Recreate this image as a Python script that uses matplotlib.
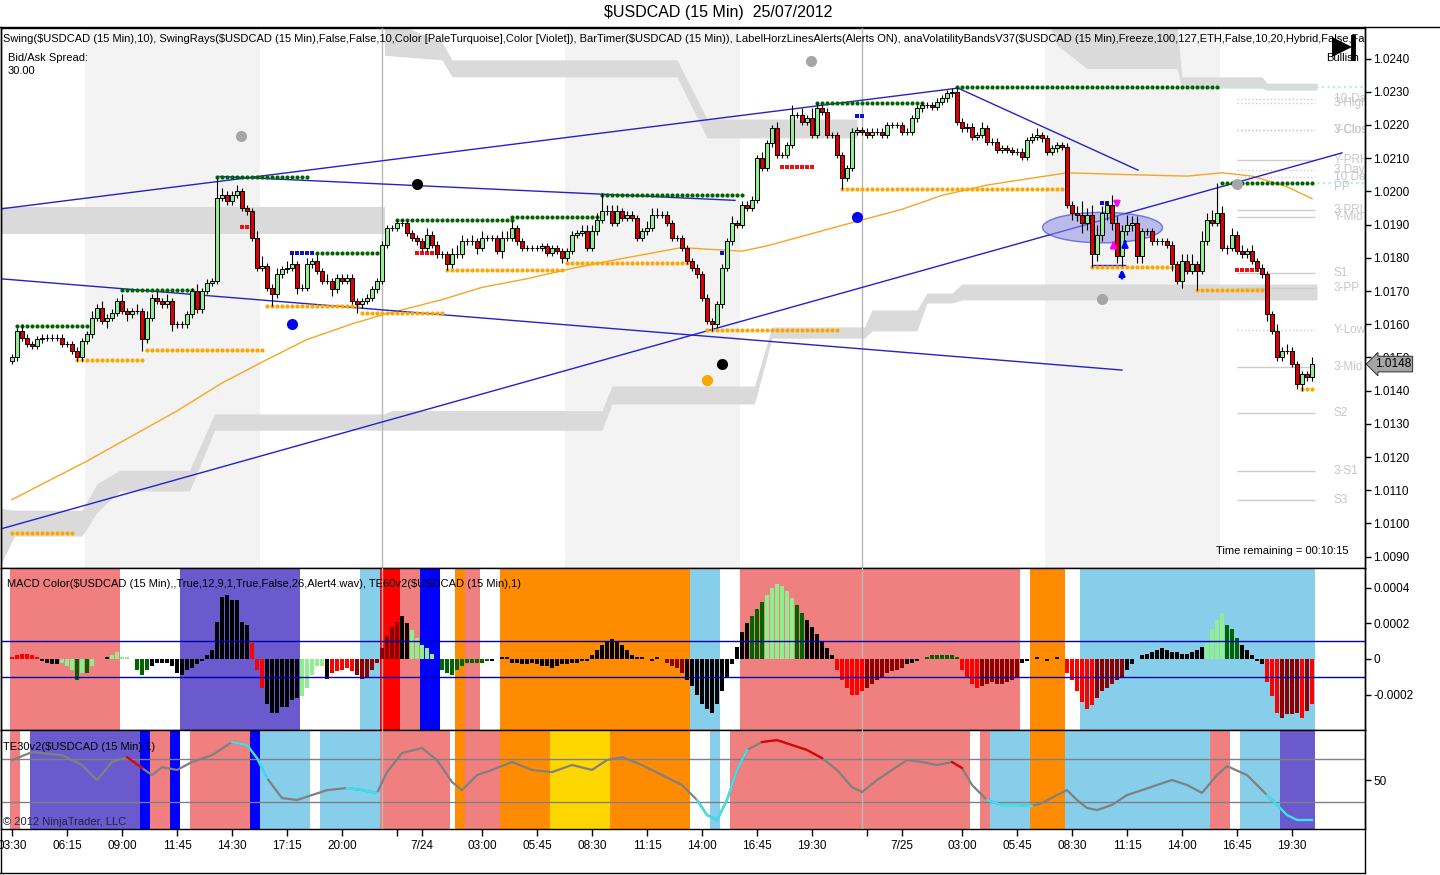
"""
$USDCAD 15 minute chart (NinjaTrader, 23-25 July 2012) redrawn with matplotlib
"""

import numpy as np
import matplotlib.pyplot as plt
import matplotlib.transforms as mtransforms
from matplotlib.lines import Line2D
from matplotlib.patches import Ellipse

plt.rcParams['font.family'] = ['Liberation Sans', 'DejaVu Sans']

# Prices are kept in pips above parity: price = 1 + pips / 10000
# one entry per 15 minute bar, bar 0 is 23/07 03:30
firstOpen = 149
closes = [
    150, 158, 156, 154, 153.5, 155.5, 156, 156, 156, 156,
    154, 154, 152, 150, 155, 157, 162, 165, 161, 162,
    163.5, 167, 164, 163, 164, 164, 155.5, 162, 168, 167,
    166, 167, 160, 160, 160, 163, 170, 164.5, 170, 172.5,
    173, 198, 199, 197, 199, 200, 195, 194, 186, 177,
    177.5, 171, 169, 175, 176.5, 177, 178, 171, 171, 178,
    179, 176, 173, 173, 170.5, 174, 173, 174, 167, 166,
    167, 168, 170.5, 173, 184, 189, 189, 190.5, 190.5, 187.5,
    186, 185, 183, 187, 184, 181, 181, 178, 181, 181,
    185, 185, 185, 183, 186, 186, 186, 182, 186, 186,
    189, 185, 183, 183, 183, 183, 183.5, 181.5, 183, 182,
    180, 182, 187, 187.5, 188, 183, 188, 191.5, 194, 194,
    190.5, 194, 192, 193, 192, 186, 188, 189, 193, 193,
    193, 190.5, 186, 186, 183, 179, 177, 175, 168, 161,
    160, 166, 177, 185, 190.5, 190, 196, 195, 197.5, 210,
    207, 214.5, 219, 211, 211, 214, 223, 223, 221, 222,
    217, 225, 224, 217, 217, 211, 204, 207, 218, 218.5,
    218, 217, 218, 218, 217, 220, 220, 220, 218, 218,
    222, 225, 226, 226, 225.5, 227, 228, 229.5, 230, 221,
    219, 219.5, 216.5, 217, 219, 215, 215, 212.5, 213, 212.5,
    212, 212, 210.5, 215.5, 216.5, 217, 216, 212, 213, 214,
    213.5, 196, 193.5, 193, 190.5, 193, 181, 187, 193.5, 196,
    190.5, 180.5, 188, 190, 190.5, 180.5, 188, 188, 185, 185,
    185, 184, 178, 173, 179, 176, 178, 176, 185, 191.5,
    190.5, 193.5, 183, 183, 187, 182, 181, 182, 179, 177,
    175, 163, 158, 150, 152, 152, 148, 142, 145, 144,
    148,
]
upWicks = [
    1, 1, 2, 1, 1, 1, 1, 1, 1, 1,
    1, 1, 1, 1, 1, 1, 2, 1, 2, 1,
    1, 1, 2, 1, 1, 2, 1, 2, 1, 2,
    1, 2, 1, 1, 1, 1, 1, 2, 1, 1,
    1, 6, 2, 1, 1, 2, 1, 1, 1, 2,
    3, 1, 1, 2, 1, 2, 3, 1, 1, 2,
    1, 2, 1, 2, 1, 1, 1, 1, 1, 1,
    1, 1, 1, 1, 1, 1, 1, 1, 1, 1,
    1, 1, 1, 2, 1, 1, 1, 1, 2, 3,
    2, 1, 2, 1, 2, 1, 1, 1, 2, 2,
    2, 1, 1, 1, 1, 1, 1, 1, 1, 1,
    1, 1, 1, 1, 2, 2, 2, 2, 5.5, 2,
    2, 2, 1, 1, 1, 1, 1, 2, 2, 2,
    1, 1, 1, 1, 1, 1, 1, 1, 1, 1,
    1, 1, 1, 1, 2, 1, 1, 1, 1, 1,
    2, 1, 1, 2, 1, 1, 3, 1, 2, 1,
    3, 1.7, 1, 1, 1, 1, 1, 1, 1, 1,
    1, 1, 1, 1, 1, 1, 1, 1, 1, 1,
    1, 1, 1, 1, 1, 1, 1, 1, 1, 1.5,
    1, 1, 1, 1, 2, 1, 1, 1, 1, 1,
    1, 1, 1, 1, 1, 2, 1, 1, 1, 1,
    1, 1, 1, 2, 4, 2, 3, 3, 2, 1,
    3, 2, 2, 3, 2, 2, 1, 1, 1, 1,
    1, 1, 1, 1, 2, 2, 3, 1, 3, 2,
    3, 9, 2, 1, 2, 1, 2, 1, 2, 1,
    1, 1, 1, 2, 1, 2, 1, 1, 1, 1,
    2,
]
downWicks = [
    1, 1, 1, 1, 1, 1, 1, 1, 1, 1,
    1, 1, 1, 1, 1, 1, 1, 1, 1, 2,
    1, 1, 1, 2, 1, 1, 3.5, 1, 1, 1,
    1, 1, 2, 1, 1, 1, 1, 1, 1, 1,
    1, 1, 1, 1, 1, 1, 1, 1, 1, 1,
    1, 1, 3.5, 1, 1, 1, 1, 2, 1, 1,
    1, 1, 1, 1, 2, 1, 1, 1, 1, 2.6,
    1, 1, 1, 1, 1, 1, 1, 1, 1, 1,
    1, 1, 1, 1, 1, 1, 1, 1.7, 1, 1,
    1, 1, 1, 2, 1, 1, 1, 1, 2, 1,
    1, 1, 1, 1, 1, 1, 1, 1, 1, 1,
    1.5, 1, 1, 1, 1, 1, 1, 1, 1, 1,
    1, 1, 1, 1, 1, 1, 1, 1, 1, 1,
    1, 1, 1, 1, 1, 1, 1, 1, 1, 1,
    2, 1, 1, 1, 1, 1, 1, 1, 1, 1,
    1, 1, 1, 1, 1, 1, 1, 1, 1, 1,
    1, 1, 1, 1, 1, 1, 3.4, 1, 1, 1,
    1, 1, 1, 1, 1, 1, 1, 1, 1, 1,
    1, 1, 1, 1, 1, 1, 1, 1, 1, 1,
    1, 1, 1, 1, 1, 1, 1, 1, 1, 1,
    1, 1, 1, 1, 1, 1, 1, 1, 1, 1,
    1, 1, 2, 2, 3, 2, 3.7, 2, 2, 2,
    2, 2, 3, 1, 2, 2, 2, 1, 1, 1,
    1, 1, 2, 1, 2, 1, 1, 5.7, 1, 1,
    1, 1, 1, 2, 1, 1, 1, 1, 1, 1,
    1, 2, 1, 1, 1, 1, 1, 1.6, 2, 1,
    1,
]

# x axis (bar index -> label)
tickBars = [0, 11, 22, 33, 44, 55, 66, 77, 82, 94, 105, 116, 127, 138, 149, 160,
            171, 178, 190, 201, 212, 223, 234, 245, 256]
tickLabels = ['03:30', '06:15', '09:00', '11:45', '14:30', '17:15', '20:00', '', '7/24',
              '03:00', '05:45', '08:30', '11:15', '14:00', '16:45', '19:30', '', '7/25',
              '03:00', '05:45', '08:30', '11:15', '14:00', '16:45', '19:30']
sessionBreaks = [74, 170]
sessionShading = [(15, 50), (111, 146), (207, 242)]

# moving average (bar, pips)
maBars = [0, 15, 33, 42, 50, 59, 68, 74, 86, 94, 103, 112, 121, 134, 139, 146, 151, 160,
          169, 178, 186, 195, 204, 211, 222, 235, 242, 248, 255, 260]
maValues = [107.2, 118.8, 133.9, 142.3, 148.6, 155.4, 160.1, 162.8, 167.4, 171.1, 173.7,
            176.8, 179.5, 183.1, 182.6, 182.0, 183.6, 187.3, 191.0, 194.6, 198.8, 201.9,
            204.0, 205.6, 205.1, 204.6, 205.6, 204.6, 201.4, 197.8]

# volatility bands: segments of (bars, lower edge, upper edge)
volBands = [
    ([-2.5, 74.5], [187.3, 187.3], [195.2, 195.2]),
    ([74.5, 86, 88, 133, 139, 169], [241, 239.6, 234.5, 234.5, 216.1, 216.1],
     [252, 245, 239.6, 239.6, 221.8, 221.8]),
    ([207, 209, 215, 233, 234, 250, 251, 261], [252, 244, 237, 237, 231.1, 231.1, 230.5, 230.5],
     [260, 252, 250, 250, 234.5, 234.5, 232.6, 232.6]),
    ([-2.5, 0.5, 14, 17, 21.5, 35.5, 40.5, 74.5, 76, 118, 120, 148.5, 152, 170.5, 172, 181,
      183, 188, 190, 261],
     [87, 96.2, 96.2, 103.4, 109.8, 109.8, 128.1, 128.1, 128.1, 128.1, 136, 136, 155.8, 155.8,
      158, 158, 166.4, 166.4, 167.3, 167.3],
     [104.6, 104, 104, 112, 116, 116, 133, 133, 134, 134, 141.4, 141.4, 159.2, 159.2, 164.3,
      164.3, 169.4, 169.4, 172.1, 172.1]),
]

# swing lines: (first bar, last bar, level)
swingHighs = [(1, 15, 159.5), (22, 36, 170.3), (41, 59, 204.3), (61, 73, 181.4), (77, 100, 191.5),
              (100, 117, 192.4), (118, 146, 199.0), (161, 182, 226.7), (189, 241, 231.5),
              (242, 260, 202.5)]
swingLows = [(0, 12, 97.1), (13, 26, 149.3), (27, 50, 152.2), (51, 69, 165.6), (70, 86, 163.4),
             (87, 110, 176.3), (111, 135, 178.5), (139, 165, 158.3), (166, 210, 200.6),
             (216, 232, 177.3), (237, 250, 170.3), (258, 260, 140.4)]
swingRays = [(241, 271, 231.5), (260, 271, 202.5)]
redMarks = [(46, 48, 189.4), (81, 85, 181.4), (154, 160, 207.4), (245, 250, 176.3)]
blueMarks = [(56, 60, 181.4), (142, 143, 181.5), (169, 170, 222.6), (218, 219, 196.5)]

# trend lines ((bar, pips), (bar, pips))
trendLines = [((-2.4, 194.7), (189.2, 231.1)), ((189.2, 231.1), (225.2, 206.4)),
              ((41.6, 204.5), (144.6, 197.3)), ((-2.4, 173.7), (222, 146.2)),
              ((-2.4, 98.3), (266, 211.6)), ((216, 177.9), (222.5, 177.9))]

# big dots
grayDots = [(45.8, 216.7), (159.8, 239.3), (218, 167.6), (245, 202.3)]
blackDots = [(81, 202.3), (142, 148.0)]
blueDots = [(56, 160.1), (169, 192.3)]
orangeDots = [(139, 143.1)]

# signal arrows (bar, from pips, to pips, colour)
arrows = [(221, 197.8, 194.0, 'magenta'), (220.3, 183.5, 186.0, 'magenta'),
          (222.6, 184.0, 186.2, 'blue'), (222, 173.0, 177.4, 'blue')]

# pivot levels drawn at the right end
pivotLevels = [227.7, 226.5, 218.5, 218.5, 209.5, 206.4, 204.4, 201.4, 194.4, 192.4, 175.3,
               170.8, 158.3, 147.2, 133.2, 115.9, 107.0]
pivotNames = ['10-Day High', '3-High', '3-Close', 'Y-Close', 'Y-PRH', '3 Day Mid', '10 Day Mid',
              'PP', '3-PRL', 'Y-Mid', 'S1', '3-PP', 'Y-Low', '3-Mid', 'S2', '3-S1', 'S3']
pivotStyles = [':', ':', ':', ':', '-', ':', ':', 'none', '-', '-', '-', '-', ':', '-', '-', '-', '-']

# MACD histogram in units of 1e-5, runs of (colour code, values) from bar 0
macdRuns = [
    ('r', [1, 2, 3, 3, 2, 1]),
    ('k', [-1, -2, -3, -3]),
    ('g', [-2, -4, -6]),
    ('G', [-12]),
    ('g', [-8]),
    ('G', [-8]),
    ('g', [-4]),
    ('k', [0, 0, 1]),
    ('g', [2, 4, 1, 1, 0]),
    ('G', [-6, -9, -6]),
    ('k', [-4, -2, -2, -2, -4, -8, -9, -6, -5, -3, -1, 2, 5, 21, 35, 36, 33, 33, 21, 19]),
    ('r', [9, -6, -16]),
    ('k', [-25, -30, -30, -27, -27, -23, -22]),
    ('g', [-21, -16, -9, -4, -4]),
    ('k', [-11]),
    ('r', [-8, -7, -6, -5, -7]),
    ('d', [-9, -11, -10, -6, -2, 6, 13, 18, 21]),
    ('k', [24, 20]),
    ('g', [16, 12, 8, 6, 3]),
    ('k', [0]),
    ('G', [-6, -8, -9, -6, -4, -2, -2, -2, -2, -1]),
    ('k', [-1, 0, 1, 1]),
    ('k', [-2, -2, -3, -3, -2, -3, -4, -4, -5, -4, -3, -3, -2, -2, -1, -1]),
    ('k', [2, 5, 8, 10, 11, 10, 8, 5, 2, 1]),
    ('k', [1, 0, -1, 1, 0]),
    ('d', [-2, -4, -5, -8]),
    ('k', [-12, -15, -20, -25, -28, -30, -25, -18, -10, -3]),
    ('k', [7, 15, 20]),
    ('G', [24, 28, 32]),
    ('g', [36, 40, 42, 41, 38, 34]),
    ('G', [30, 26]),
    ('k', [22, 18, 14, 10, 6, 2]),
    ('r', [-6, -12, -16, -20, -20, -18]),
    ('d', [-16, -14, -12, -10, -8, -7, -6, -5]),
    ('k', [-3, -2, -1, 0]),
    ('G', [1, 2, 2, 2, 2, 2, 1]),
    ('r', [-6, -10, -14, -16]),
    ('d', [-15, -14, -13, -14, -14, -13, -12, -10]),
    ('k', [-2, -1, 0, 1, 0, -1, 0, 1, 0]),
    ('r', [-8, -12, -18, -24, -28, -26]),
    ('d', [-22, -18, -16, -14, -12, -10]),
    ('k', [-6, -3, 0, 2, 3, 4, 5, 6, 5, 4, 4, 3, 3, 4, 5, 7]),
    ('g', [9, 17, 22, 26]),
    ('G', [19, 17, 12]),
    ('k', [8, 5, 2, -1, -3]),
    ('r', [-13, -21, -30]),
    ('d', [-33, -31, -31, -30]),
    ('r', [-33]),
    ('d', [-29]),
    ('r', [-25]),
]
macdColours = {'r': '#ff0000', 'd': '#8b0000', 'g': '#90ee90', 'G': '#006400', 'k': '#000000'}

# background states (first bar, end bar, colour)
macdBands = [(0, 22, '#f08080'), (34, 58, '#6a5acd'), (70, 74, '#87ceeb'), (74, 78, '#ff0000'),
             (78, 82, '#f08080'), (82, 86, '#0000ff'), (89, 91, '#ff8c00'), (91, 94, '#f08080'),
             (98, 136, '#ff8c00'), (136, 142, '#87ceeb'), (146, 202, '#f08080'),
             (204, 211, '#ff8c00'), (214, 261, '#87ceeb')]
teBands = [(0, 2, '#f08080'), (4, 26, '#6a5acd'), (26, 28, '#0000ff'), (28, 32, '#f08080'),
           (32, 34, '#0000ff'), (36, 48, '#f08080'), (48, 50, '#0000ff'), (50, 60, '#87ceeb'),
           (62, 74, '#87ceeb'), (74, 88, '#f08080'), (89, 91, '#ff8c00'), (91, 98, '#f08080'),
           (98, 108, '#ff8c00'), (108, 120, '#ffd700'), (120, 136, '#ff8c00'),
           (140, 142, '#87ceeb'), (144, 192, '#f08080'), (194, 196, '#f08080'),
           (196, 204, '#87ceeb'), (204, 211, '#ff8c00'), (211, 240, '#87ceeb'),
           (240, 244, '#f08080'), (246, 254, '#87ceeb'), (254, 261, '#6a5acd')]

# TE oscillator line
teBars = [0, 4, 10, 14, 17, 20, 23, 26, 28, 30, 33, 36, 40, 44, 47, 49, 51, 54, 57, 60,
          63, 67, 70, 73, 75, 78, 82, 85, 88, 90, 93, 96, 100, 104, 108, 112, 116, 119, 122, 126,
          130, 134, 137, 139, 141, 143, 145, 147, 150, 153, 156, 159, 162, 165, 168, 170, 173, 176,
          179, 182, 185, 188, 190, 192, 195, 198, 201, 204, 206, 209, 211, 213, 215, 217, 220, 223,
          226, 229, 232, 235, 238, 241, 243, 247, 249, 251, 253, 255, 257, 260]
teValues = [59.3, 63.0, 61.6, 57.0, 50.0, 58.4, 60.7, 55.6, 52.3, 56.0,
            54.7, 58.4, 61.6, 67.7, 66.3, 60.2, 50.9, 41.6, 40.7, 43.0,
            45.3, 46.3, 45.3, 44.0, 53.7, 62.6, 64.9, 59.3, 49.1, 45.3,
            52.3, 54.7, 58.4, 54.7, 53.7, 57.0, 54.7, 59.3, 60.7, 57.0,
            52.3, 47.7, 40.7, 33.7, 31.4, 40.7, 54.7, 64.0, 67.7, 68.6,
            66.3, 64.0, 60.2, 54.7, 46.7, 44.4, 50.0, 54.7, 59.3, 58.4,
            57.0, 58.4, 55.6, 47.7, 40.7, 38.4, 38.4, 37.9, 39.3, 43.0,
            45.3, 40.7, 37.0, 36.0, 38.4, 43.0, 45.3, 47.7, 50.0, 47.7,
            44.0, 52.3, 56.5, 52.3, 47.7, 43.0, 38.4, 33.7, 31.4, 31.4]
teColourSpans = [(21, 27, '#e00000'), (43, 51, '#33e6f0'), (65, 74, '#33e6f0'),
                 (137, 147, '#33e6f0'), (150, 164, '#e00000'), (188, 191, '#e00000'),
                 (194, 204, '#33e6f0'), (251, 260, '#33e6f0')]

W, H = 1440, 875
MAIN_BOX = (1, 28, 1365, 568)
MACD_BOX = (1, 568, 1365, 730)
TE_BOX = (1, 730, 1365, 829)


def figBox(box):
    left, top, right, bottom = box
    return [left / W, 1 - bottom / H, (right - left) / W, (bottom - top) / H]


def axText(ax, box, px, py, s, **kw):
    # place text by pixel position inside an axes
    left, top, right, bottom = box
    return ax.text((px - left) / (right - left), (bottom - py) / (bottom - top), s,
                   transform=ax.transAxes, **kw)


def styleAxis(ax):
    for sp in ax.spines.values():
        sp.set_color('black')
        sp.set_linewidth(1)
    ax.yaxis.tick_right()
    ax.tick_params(axis='y', length=4, width=1, pad=2, labelsize=8.5, direction='out')
    ax.set_xlim(-2.2, 270.6)


def main():
    fig = plt.figure(figsize=(W / 100, H / 100), dpi=100)
    fig.patch.set_facecolor('white')

    axMain = fig.add_axes(figBox(MAIN_BOX))
    axMacd = fig.add_axes(figBox(MACD_BOX))
    axTe = fig.add_axes(figBox(TE_BOX))
    for ax in (axMain, axMacd, axTe):
        styleAxis(ax)
    axMain.set_xticks([])
    axMacd.set_xticks([])

    # ---------------- price panel ----------------
    axMain.set_ylim(86.6, 249.2)
    yt = list(range(90, 241, 10))
    axMain.set_yticks(yt)
    axMain.set_yticklabels(['{:.4f}'.format(1 + t / 1e4) for t in yt])

    for b0, b1 in sessionShading:
        axMain.axvspan(b0 - 0.5, b1 - 0.5, color='#f3f3f3', lw=0, zorder=0)
    for bars, lo, hi in volBands:
        axMain.fill_between(bars, lo, hi, color='#dadada', lw=0, zorder=1)
    for ax in (axMain, axMacd, axTe):
        for b in sessionBreaks:
            ax.axvline(b, color='#b8b8b8', lw=1, zorder=3)

    # pivot lines and labels
    for lvl, name, ls in zip(pivotLevels, pivotNames, pivotStyles):
        if ls != 'none':
            axMain.hlines(lvl, 245, 260.5, colors='#cccccc', linestyles=ls, lw=1, zorder=2)
        axMain.text(264.4, lvl, name, fontsize=8.5, color='#c8c8c8', va='center', ha='left',
                    clip_on=True, zorder=2)

    axMain.plot(maBars, maValues, color='#f5a623', lw=1, zorder=3)

    for (x0, y0), (x1, y1) in trendLines:
        axMain.plot([x0, x1], [y0, y1], color='#2222cc', lw=1, zorder=4)

    for b0, b1, lvl in swingRays:
        axMain.plot([b0, b1], [lvl, lvl], color='#aeeeee', lw=1.5, ls=':', zorder=3)
    for b0, b1, lvl in swingHighs:
        xs = np.arange(b0, b1 + 1)
        axMain.plot(xs, np.full(len(xs), lvl), 'o', color='#006400', ms=3, mew=0, zorder=5)
    for b0, b1, lvl in swingLows:
        xs = np.arange(b0, b1 + 1)
        axMain.plot(xs, np.full(len(xs), lvl), 'o', color='#ffa500', ms=3, mew=0, zorder=5)
    for b0, b1, lvl in redMarks:
        xs = np.arange(b0, b1 + 1)
        axMain.plot(xs, np.full(len(xs), lvl), 's', color='#ee1111', ms=3.5, mew=0, zorder=5)
    for b0, b1, lvl in blueMarks:
        xs = np.arange(b0, b1 + 1)
        axMain.plot(xs, np.full(len(xs), lvl), 's', color='#1111cc', ms=3.5, mew=0, zorder=5)

    ell = Ellipse((218.1, 189.1), 24, 9.2, facecolor='#8c8ce6', alpha=0.55,
                  edgecolor='#2222cc', lw=1, zorder=4)
    axMain.add_patch(ell)

    # candles
    opens = [firstOpen] + closes[:-1]
    x = np.arange(len(closes))
    o = np.array(opens, dtype=float)
    c = np.array(closes, dtype=float)
    hi = np.maximum(o, c) + np.array(upWicks)
    lo = np.minimum(o, c) - np.array(downWicks)
    axMain.vlines(x, lo, hi, color='black', lw=0.8, zorder=6)
    bodyCol = ['#90ee90' if cc >= oo else '#dd0000' for oo, cc in zip(o, c)]
    axMain.bar(x, np.abs(c - o), bottom=np.minimum(o, c), width=0.8, color=bodyCol,
               edgecolor='black', linewidth=0.7, zorder=7)

    for dots, col in ((grayDots, '#a6a6a6'), (blackDots, 'black'), (blueDots, '#0000ee'),
                      (orangeDots, '#ffa500')):
        axMain.plot([d[0] for d in dots], [d[1] for d in dots], 'o', color=col, ms=8, mew=0,
                    zorder=8)

    for b, y0, y1, col in arrows:
        axMain.annotate('', xy=(b, y1), xytext=(b, y0),
                        arrowprops=dict(arrowstyle='-|>', color=col, lw=2, mutation_scale=8),
                        zorder=9)

    # last price tag
    trans = mtransforms.blended_transform_factory(axMain.transAxes, axMain.transData)
    axMain.text(1.007, closes[-1], '{:.4f}'.format(1 + closes[-1] / 1e4), transform=trans,
                va='center', ha='left', fontsize=8.5, zorder=10, clip_on=False,
                bbox=dict(boxstyle='larrow,pad=0.15', fc='#a6a6a6', ec='#404040', lw=0.8))

    legend = ('Swing(\\$USDCAD (15 Min),10), SwingRays(\\$USDCAD (15 Min),False,False,10,'
              'Color [PaleTurquoise],Color [Violet]), BarTimer(\\$USDCAD (15 Min)), '
              'LabelHorzLinesAlerts(Alerts ON), anaVolatilityBandsV37(\\$USDCAD (15 Min),Freeze,'
              '100,127,ETH,False,10,20,Hybrid,False,False,1)')
    axText(axMain, MAIN_BOX, 3, 39, legend, fontsize=8, va='center', ha='left', clip_on=True,
           zorder=11)
    axText(axMain, MAIN_BOX, 8, 58, 'Bid/Ask Spread:', fontsize=8, va='center', zorder=11)
    axText(axMain, MAIN_BOX, 8, 71, '30.00', fontsize=8, va='center', zorder=11)
    axText(axMain, MAIN_BOX, 1359, 58, 'Bullish', fontsize=8, va='center', ha='right', zorder=11)
    axText(axMain, MAIN_BOX, 1282, 551, 'Time remaining = 00:10:15', fontsize=8, va='center',
           ha='center', zorder=11)
    # "play to end" glyph
    fx = lambda px: (px - 1) / 1364
    fy = lambda py: (568 - py) / 540
    axMain.plot([fx(1342)], [fy(47)], marker='>', color='black', ms=15, mew=0,
                transform=axMain.transAxes, clip_on=False, zorder=12)
    axMain.plot([fx(1353), fx(1353)], [fy(37), fy(58)], color='black', lw=3.5,
                transform=axMain.transAxes, clip_on=False, zorder=12)

    # ---------------- MACD panel ----------------
    axMacd.set_ylim(-0.000398, 0.000510)
    axMacd.set_yticks([0.0004, 0.0002, 0, -0.0002])
    axMacd.set_yticklabels(['0.0004', '0.0002', '0', '-0.0002'])
    for b0, b1, col in macdBands:
        axMacd.axvspan(b0 - 0.5, b1 - 0.5, color=col, lw=0, zorder=0)
    macdVals = []
    macdCols = []
    for code, vals in macdRuns:
        macdVals += vals
        macdCols += [macdColours[code]] * len(vals)
    macdX = np.arange(len(macdVals))
    axMacd.bar(macdX, np.array(macdVals) * 1e-5, width=0.72, color=macdCols, lw=0, zorder=4)
    axMacd.axhline(0.0001, color='#0000aa', lw=1, zorder=5)
    axMacd.axhline(-0.0001, color='#0000aa', lw=1, zorder=5)
    axText(axMacd, MACD_BOX, 7, 584,
           'MACD Color(\\$USDCAD (15 Min),,True,12,9,1,True,False,26,Alert4.wav), '
           'TE60v2(\\$USDCAD (15 Min),1)', fontsize=8, va='center', zorder=11)

    # ---------------- TE panel ----------------
    axTe.set_ylim(27.2, 73.3)
    axTe.set_yticks([50])
    axTe.set_yticklabels(['50'])
    for b0, b1, col in teBands:
        axTe.axvspan(b0 - 0.5, b1 - 0.5, color=col, lw=0, zorder=0)
    axTe.axhline(60, color='#808080', lw=1, zorder=2)
    axTe.axhline(40, color='#808080', lw=1, zorder=2)
    axTe.plot(teBars, teValues, color='#808080', lw=1.6, zorder=4)
    teB = np.array(teBars)
    teV = np.array(teValues)
    for b0, b1, col in teColourSpans:
        m = (teB >= b0) & (teB <= b1)
        axTe.plot(teB[m], teV[m], color=col, lw=1.6, zorder=5)
    axText(axTe, TE_BOX, 3, 747, 'TE30v2(\\$USDCAD (15 Min),1)', fontsize=8, va='center',
           zorder=11)
    axText(axTe, TE_BOX, 3, 822, '\u00a9 2012 NinjaTrader, LLC', fontsize=8, va='center',
           color='#222244', zorder=11)
    axTe.set_xticks(tickBars)
    axTe.set_xticklabels(tickLabels)
    axTe.tick_params(axis='x', length=5, width=1, pad=3, labelsize=8.5, direction='out')

    # title and outer frame
    fig.text(718 / W, 1 - 13 / H, '\\$USDCAD (15 Min)  25/07/2012', ha='center', va='center',
             fontsize=11.5)
    for (x0, y0), (x1, y1) in [((0, 27), (1440, 27)), ((0, 873), (1365, 873)),
                               ((0.5, 27), (0.5, 873)), ((1365, 27), (1365, 873))]:
        fig.add_artist(Line2D([x0 / W, x1 / W], [1 - y0 / H, 1 - y1 / H], color='black', lw=1))

    fig.savefig('out.png', dpi=100)


if __name__ == '__main__':
    main()
